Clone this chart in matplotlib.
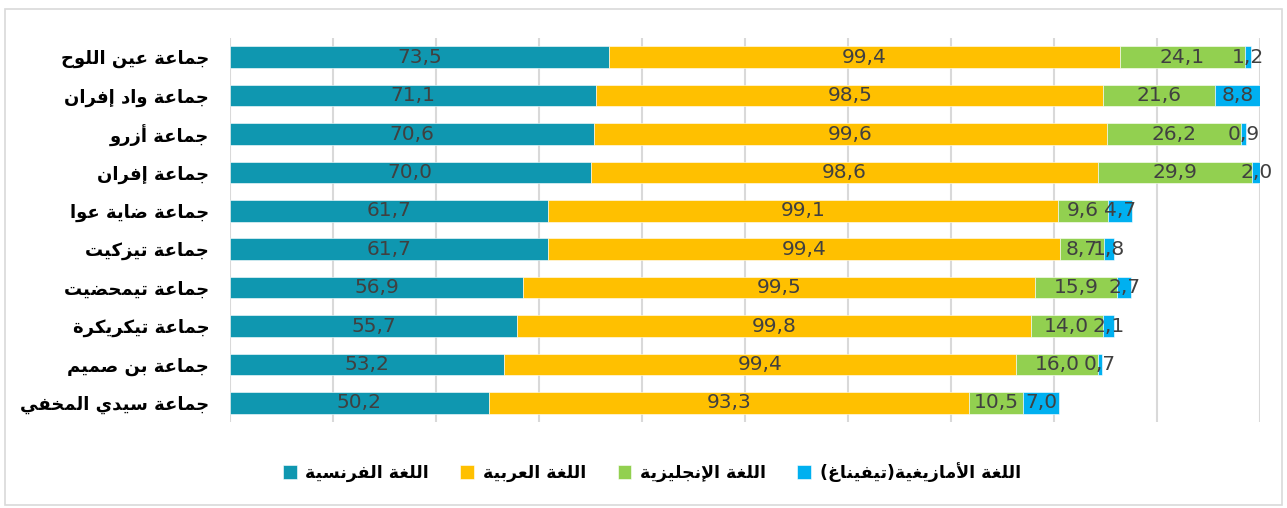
import matplotlib
matplotlib.use('Agg')
import matplotlib.pyplot as plt
from matplotlib.patches import Rectangle
import numpy as np

# ---------------------------------------------------
# data (top -> bottom, as in the chart)
# ---------------------------------------------------
communes = ['جماعة عين اللوح', 'جماعة واد إفران', 'جماعة أزرو', 'جماعة إفران',
            'جماعة ضاية عوا', 'جماعة تيزكيت', 'جماعة تيمحضيت', 'جماعة تيكريكرة',
            'جماعة بن صميم', 'جماعة سيدي المخفي']
french = [73.5, 71.1, 70.6, 70.0, 61.7, 61.7, 56.9, 55.7, 53.2, 50.2]
arabic = [99.4, 98.5, 99.6, 98.6, 99.1, 99.4, 99.5, 99.8, 99.4, 93.3]
english = [24.1, 21.6, 26.2, 29.9, 9.6, 8.7, 15.9, 14.0, 16.0, 10.5]
amazigh = [1.2, 8.8, 0.9, 2.0, 4.7, 1.8, 2.7, 2.1, 0.7, 7.0]
series_names = ['اللغة الفرنسية', 'اللغة العربية', 'اللغة الإنجليزية', 'اللغة الأمازيغية(تيفيناغ)']
colors = ['#0F97B0', '#FFC000', '#92D050', '#00B0F0']


# ---------------------------------------------------
# tiny arabic shaper: presentation forms + visual order
# ---------------------------------------------------
def buildForms():
    forms = {}
    start = 0xFE80
    for ch, n in [('ء', 1), ('آ', 2), ('أ', 2), ('ؤ', 2), ('إ', 2), ('ئ', 4), ('ا', 2),
                  ('ب', 4), ('ة', 2), ('ت', 4), ('ث', 4), ('ج', 4), ('ح', 4), ('خ', 4),
                  ('د', 2), ('ذ', 2), ('ر', 2), ('ز', 2), ('س', 4), ('ش', 4), ('ص', 4),
                  ('ض', 4), ('ط', 4), ('ظ', 4), ('ع', 4), ('غ', 4), ('ف', 4), ('ق', 4),
                  ('ك', 4), ('ل', 4), ('م', 4), ('ن', 4), ('ه', 4), ('و', 2), ('ى', 2),
                  ('ي', 4)]:
        forms[ch] = [chr(start + i) for i in range(n)]
        start += n
    # lam-alef ligatures (isolated, final)
    forms['لآ'] = ['\uFEF5', '\uFEF6']
    forms['لأ'] = ['\uFEF7', '\uFEF8']
    forms['لإ'] = ['\uFEF9', '\uFEFA']
    forms['لا'] = ['\uFEFB', '\uFEFC']
    return forms

FORMS = buildForms()

def shape(txt):
    toks = []
    i = 0
    while i < len(txt):
        if txt[i:i+2] in FORMS:
            toks.append(txt[i:i+2])
            i += 2
        else:
            toks.append(txt[i])
            i += 1
    out = []
    for k, t in enumerate(toks):
        if t not in FORMS:
            out.append(t)
            continue
        f = FORMS[t]
        prev = toks[k-1] if k > 0 else ''
        nxt = toks[k+1] if k + 1 < len(toks) else ''
        jp = prev in FORMS and len(FORMS[prev]) == 4
        jn = len(f) == 4 and nxt in FORMS and len(FORMS[nxt]) >= 2
        if len(f) == 1:
            idx = 0
        elif jp and jn:
            idx = 3
        elif jp:
            idx = 1
        elif jn:
            idx = 2
        else:
            idx = 0
        out.append(f[idx])
    vis = ''.join(out)[::-1]
    return vis.translate(str.maketrans('()', ')('))


# ---------------------------------------------------
# plotting
# ---------------------------------------------------
fig = plt.figure(figsize=(12.87, 5.08), dpi=100)
ax = fig.add_axes([230/1287, 1-422/508, 1030/1287, 384/508])

fig.patches.append(Rectangle((5/1287, 3/508), 1277/1287, 1-12/508, transform=fig.transFigure,
                             fill=False, edgecolor='#D9D9D9', linewidth=1.2))

y = np.arange(len(communes))
left = np.zeros(len(communes))
for vals, name, col in zip([french, arabic, english, amazigh], series_names, colors):
    bars = ax.barh(y, vals, left=left, height=0.56, color=col, label=shape(name),
                   edgecolor='white', linewidth=0.4, zorder=3)
    ax.bar_label(bars, labels=[('%.1f' % v).replace('.', ',') for v in vals],
                 label_type='center', color='#404040', fontsize=14.5,
                 family=['Liberation Sans Narrow', 'DejaVu Sans'])
    left += np.array(vals)

ax.set_xlim(0, 200)
ax.set_ylim(len(communes) - 0.5, -0.5)
ax.set_xticks(np.arange(0, 201, 20))
ax.set_xticklabels([])
ax.tick_params(axis='both', length=0)
ax.grid(axis='x', color='#D9D9D9', linewidth=1.5, zorder=0)
for s in ax.spines.values():
    s.set_visible(False)

ax.set_yticks(y)
ax.set_yticklabels([shape(c) for c in communes], fontsize=13, fontweight='bold',
                   family='DejaVu Sans')
ax.tick_params(axis='y', pad=15)

fig.legend(loc='center', bbox_to_anchor=(652/1287, 1-472/508), ncol=4, frameon=False,
           prop={'family': 'DejaVu Sans', 'weight': 'bold', 'size': 12.5},
           handlelength=0.8, handleheight=0.8, columnspacing=1.8, handletextpad=0.5)

plt.savefig('out.png')
